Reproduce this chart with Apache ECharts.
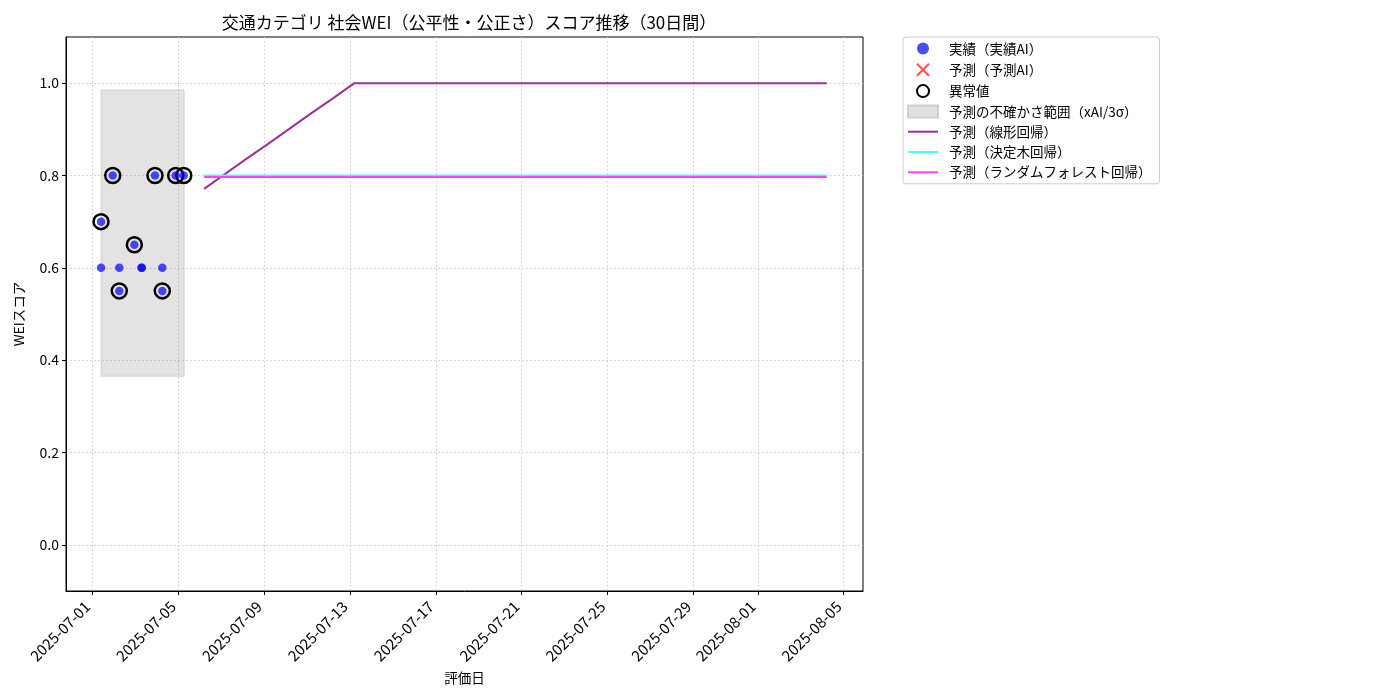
<!DOCTYPE html>
<html>
<head>
<meta charset="utf-8">
<script src="https://cdn.jsdelivr.net/npm/echarts@6/dist/echarts.min.js"></script>
<style>
html,body{margin:0;padding:0;background:#fff;}
#chart{width:1400px;height:700px;}
</style>
</head>
<body>
<div id="chart"></div>
<script>
// ---- data ----
const actualDates = ['2025-07-01 09:45','2025-07-01 09:45','2025-07-01 22:50','2025-07-02 06:10','2025-07-02 06:10','2025-07-02 23:00','2025-07-03 07:10','2025-07-03 07:10','2025-07-03 22:05','2025-07-04 06:15','2025-07-04 06:15','2025-07-04 21:15','2025-07-05 06:15'];
const actualValues = [0.70,0.60,0.80,0.60,0.55,0.65,0.60,0.60,0.80,0.60,0.55,0.80,0.80];

const anomalyDates = ['2025-07-01 09:45','2025-07-01 22:50','2025-07-02 06:10','2025-07-02 23:00','2025-07-03 22:05','2025-07-04 06:15','2025-07-04 21:15','2025-07-05 06:15'];
const anomalyValues = [0.70,0.80,0.55,0.65,0.80,0.55,0.80,0.80];

const predAIDates = [];
const predAIValues = [];

const bandStart = '2025-07-01 09:45';
const bandEnd = '2025-07-05 06:45';
const bandLow = 0.365;
const bandHigh = 0.985;

const predDates = ['2025-07-06 05:00','2025-07-07 05:00','2025-07-08 05:00','2025-07-09 05:00','2025-07-10 05:00','2025-07-11 05:00','2025-07-12 05:00','2025-07-13 05:00','2025-07-14 05:00','2025-07-15 05:00',
  '2025-07-16 05:00','2025-07-17 05:00','2025-07-18 05:00','2025-07-19 05:00','2025-07-20 05:00','2025-07-21 05:00','2025-07-22 05:00','2025-07-23 05:00','2025-07-24 05:00','2025-07-25 05:00',
  '2025-07-26 05:00','2025-07-27 05:00','2025-07-28 05:00','2025-07-29 05:00','2025-07-30 05:00','2025-07-31 05:00','2025-08-01 05:00','2025-08-02 05:00','2025-08-03 05:00','2025-08-04 05:00'];
const linearValues = [0.771,0.804,0.837,0.869,0.902,0.935,0.967,1.0,1.0,1.0,
  1.0,1.0,1.0,1.0,1.0,1.0,1.0,1.0,1.0,1.0,
  1.0,1.0,1.0,1.0,1.0,1.0,1.0,1.0,1.0,1.0];
const treeValues = [0.80,0.80,0.80,0.80,0.80,0.80,0.80,0.80,0.80,0.80,
  0.80,0.80,0.80,0.80,0.80,0.80,0.80,0.80,0.80,0.80,
  0.80,0.80,0.80,0.80,0.80,0.80,0.80,0.80,0.80,0.80];
const forestValues = [0.797,0.797,0.797,0.797,0.797,0.797,0.797,0.797,0.797,0.797,
  0.797,0.797,0.797,0.797,0.797,0.797,0.797,0.797,0.797,0.797,
  0.797,0.797,0.797,0.797,0.797,0.797,0.797,0.797,0.797,0.797];

const xTickLabels = ['2025-07-01','2025-07-05','2025-07-09','2025-07-13','2025-07-17','2025-07-21','2025-07-25','2025-07-29','2025-08-01','2025-08-05'];
const yTickValues = [0.0,0.2,0.4,0.6,0.8,1.0];

const xMin = '2025-06-29 18:36';
const xMax = '2025-08-05 21:36';

// ---- build ----
function ts(s){ return echarts.time.parse(s).getTime(); }
function pairs(xs, ys){ return xs.map((x,i)=>[x, ys[i]]); }
const xTicks = xTickLabels.map(s => ts(s + ' 00:00'));

const FONT = "'Noto Sans CJK JP', 'Noto Sans', sans-serif";
const chart = echarts.init(document.getElementById('chart'), null, {renderer:'canvas'});

const gridLine = {show:true, lineStyle:{color:'#c8c8c8', type:[1.5,2.5], width:1}};
const LINE_ICON = 'path://M0,0L30,0L30,2L0,2Z';

const option = {
  backgroundColor:'#ffffff',
  animation:false,
  textStyle:{fontFamily:FONT},
  title:{
    text:'交通カテゴリ 社会WEI（公平性・公正さ）スコア推移（30日間）',
    left:464, top:9, textAlign:'center',
    textStyle:{fontFamily:FONT, fontSize:17, fontWeight:'normal', color:'#000'}
  },
  grid:{left:66, right:537, top:37, bottom:109, show:true, borderColor:'#000', borderWidth:1, backgroundColor:'transparent'},
  legend:{
    orient:'vertical', left:903, top:37,
    padding:[4,8,4,4],
    itemWidth:30, itemHeight:12, itemGap:5.3,
    borderColor:'#cccccc', borderWidth:1, borderRadius:3, backgroundColor:'#fff',
    textStyle:{fontFamily:FONT, fontSize:13.5, lineHeight:15, color:'#000', padding:[0,0,0,6]},
    data:[
      {name:'実績（実績AI）', icon:'circle'},
      {name:'予測（予測AI）', icon:'path://M0,0L10,10M10,0L0,10'},
      {name:'異常値', icon:'circle'},
      {name:'予測の不確かさ範囲（xAI/3σ）', icon:'rect'},
      {name:'予測（線形回帰）', icon:LINE_ICON},
      {name:'予測（決定木回帰）', icon:LINE_ICON},
      {name:'予測（ランダムフォレスト回帰）', icon:LINE_ICON}
    ]
  },
  xAxis:{
    type:'value', min:ts(xMin), max:ts(xMax),
    name:'評価日', nameLocation:'middle', nameGap:78,
    nameTextStyle:{fontFamily:FONT, fontSize:13.5, color:'#000'},
    axisLine:{show:true, onZero:false, lineStyle:{color:'#000', width:1}},
    axisTick:{show:true, length:4, lineStyle:{color:'#000'}, customValues:xTicks},
    axisLabel:{
      show:true, rotate:45, color:'#000', fontFamily:FONT, fontSize:15, margin:8,
      padding:[0,7,0,0],
      customValues:xTicks,
      formatter:function(v){ return echarts.time.format(v,'{yyyy}-{MM}-{dd}',false); }
    },
    splitLine:gridLine
  },
  yAxis:{
    type:'value', min:-0.1, max:1.1,
    name:'WEIスコア', nameLocation:'middle', nameGap:40,
    nameTextStyle:{fontFamily:FONT, fontSize:13.5, color:'#000'},
    axisLine:{show:true, onZero:false, lineStyle:{color:'#000', width:1}},
    axisTick:{show:true, length:4, lineStyle:{color:'#000'}, customValues:yTickValues},
    axisLabel:{show:true, color:'#000', fontFamily:FONT, fontSize:14, margin:7,
      customValues:yTickValues,
      formatter:function(v){ return v.toFixed(1); }},
    splitLine:gridLine
  },
  series:[
    {
      name:'予測の不確かさ範囲（xAI/3σ）', type:'scatter', data:[], z:1,
      itemStyle:{color:'#e0e0e0', borderColor:'#d0d0d0', borderWidth:1, opacity:1},
      markArea:{
        silent:true,
        itemStyle:{color:'rgba(128,128,128,0.22)', borderColor:'rgba(128,128,128,0.25)', borderWidth:1},
        data:[[{xAxis:ts(bandStart), yAxis:bandHigh},{xAxis:ts(bandEnd), yAxis:bandLow}]]
      }
    },
    {
      name:'予測（線形回帰）', type:'line', symbol:'none', z:3,
      data:pairs(predDates.map(ts), linearValues),
      lineStyle:{color:'#993399', width:2}, itemStyle:{color:'#993399'}
    },
    {
      name:'予測（決定木回帰）', type:'line', symbol:'none', z:3,
      data:pairs(predDates.map(ts), treeValues),
      lineStyle:{color:'#40ffff', width:2}, itemStyle:{color:'#40ffff'}
    },
    {
      name:'予測（ランダムフォレスト回帰）', type:'line', symbol:'none', z:3,
      data:pairs(predDates.map(ts), forestValues),
      lineStyle:{color:'#ff40ff', width:2}, itemStyle:{color:'#ff40ff'}
    },
    {
      name:'異常値', type:'scatter', symbol:'circle', symbolSize:15, z:4,
      data:pairs(anomalyDates.map(ts), anomalyValues),
      itemStyle:{color:'rgba(0,0,0,0)', borderColor:'#000', borderWidth:2.5, opacity:1}
    },
    {
      name:'実績（実績AI）', type:'scatter', symbol:'circle', symbolSize:8.5, z:5,
      data:pairs(actualDates.map(ts), actualValues),
      itemStyle:{color:'rgba(0,0,255,0.7)', opacity:1}
    },
    {
      name:'予測（予測AI）', type:'scatter', symbol:'path://M0,0L10,10M10,0L0,10', symbolSize:12, z:5,
      data:pairs(predAIDates.map(ts), predAIValues),
      itemStyle:{color:'none', borderColor:'rgba(255,0,0,0.7)', borderWidth:2, opacity:1}
    }
  ]
};
chart.setOption(option);
</script>
</body>
</html>
